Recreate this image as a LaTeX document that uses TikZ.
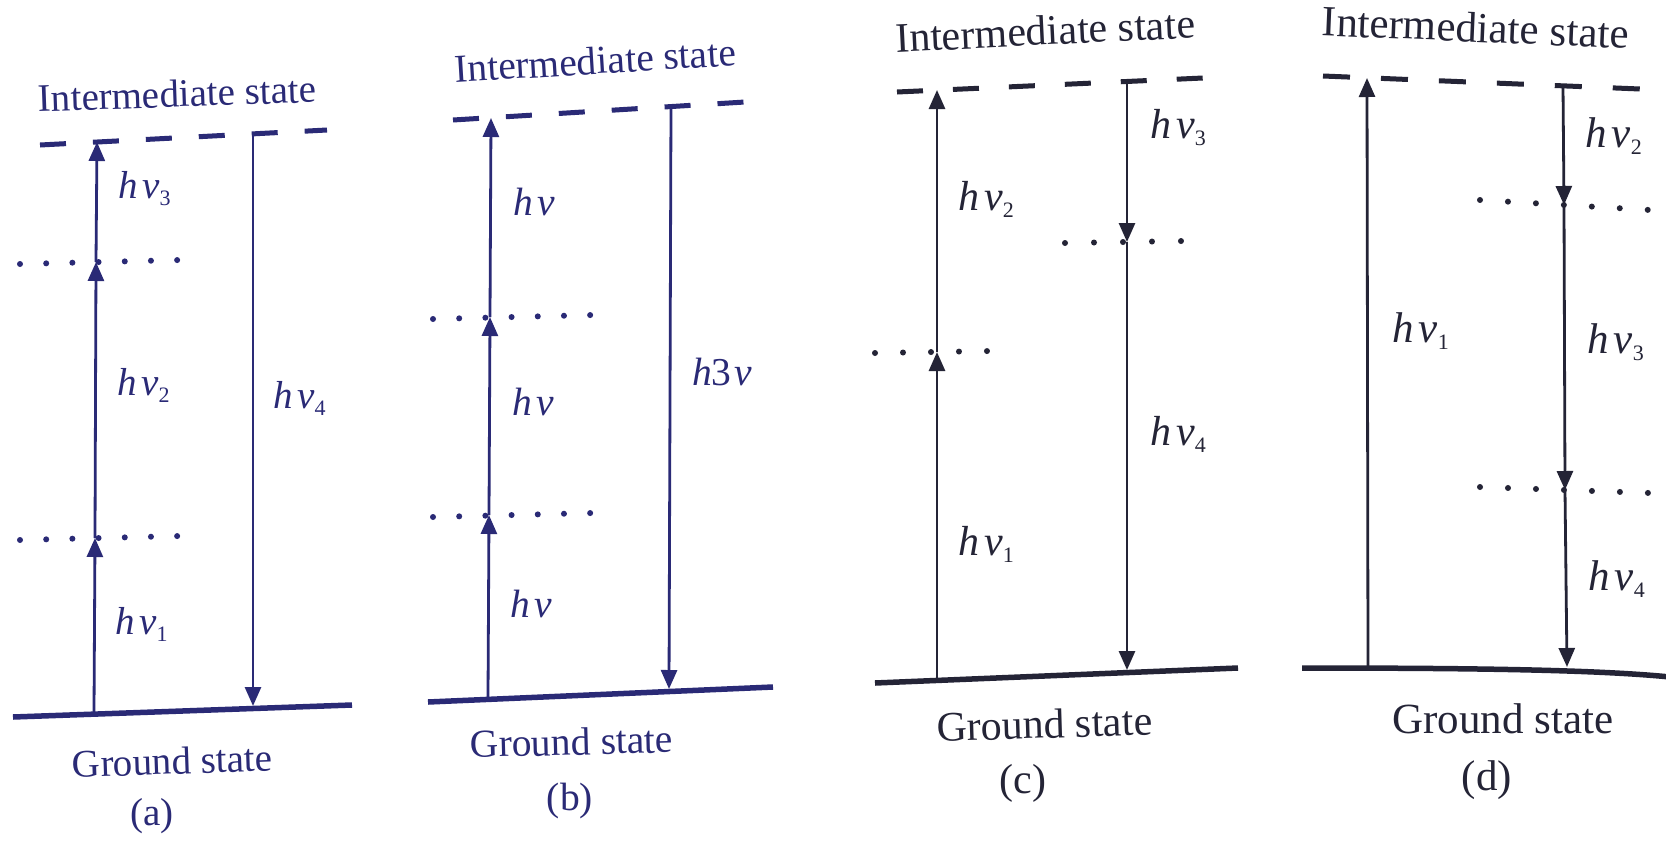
\documentclass[tikz,border=0pt]{standalone}
\usepackage{fontspec}
\setmainfont{Liberation Serif}
\usetikzlibrary{arrows.meta}
\definecolor{inkab}{RGB}{42,42,118}
\definecolor{inkcd}{RGB}{36,36,54}
\newcommand{\hv}[1]{\textit{h}\kern0.12em\textit{ν}\raisebox{-7pt}{\fontsize{22}{22}\selectfont #1}}
\newcommand{\hnu}{\textit{h}\kern0.12em\textit{ν}}
\begin{document}
\begin{tikzpicture}[x=1pt,y=-1pt,
  arr/.style={line width=2.8pt,-{Triangle[length=19pt,width=16pt]}},
  groundline/.style={line width=5.5pt},
  interm/.style={line width=5pt,dash pattern=on 26pt off 27pt},
  dotlev/.style={line width=6pt,line cap=round,dash pattern=on 0pt off 26.2pt},
  lbl/.style={inner sep=0pt,anchor=base west},
  ttl/.style={inner sep=0pt,anchor=base},
]
\useasboundingbox[fill=white] (0,0) rectangle (1666,841);

% ---------------- (a) ----------------
\begin{scope}[color=inkab, every node/.append style={font=\fontsize{39}{44}\selectfont}]
\draw[interm] (40,145) -- (327,130);
\draw[groundline] (13,717) -- (352,705);
\draw[dotlev] (20,540) -- (180,536);
\draw[dotlev] (20,264) -- (180,260);
\coordinate (a-g) at (94,712);
\coordinate (a-l1) at (95,538);
\coordinate (a-l2) at (96,262);
\coordinate (a-t) at (97,142);
\coordinate (a-dt) at (253,136);
\coordinate (a-dg) at (253,706);
\draw[arr] (a-g) -- (a-l1);
\draw[arr] (a-l1) -- (a-l2);
\draw[arr] (a-l2) -- (a-t);
\draw[arr] (a-dt) -- (a-dg);
\node[ttl,rotate=2] (a-int) at (178,107) {Intermediate state};
\node[ttl,rotate=2] (a-gs) at (173,774) {Ground state};
\node[ttl] (a-cap) at (152,825) {(a)};
\node[lbl] (a-h3) at (118,198) {\hv{3}};
\node[lbl] (a-h2) at (117,395) {\hv{2}};
\node[lbl] (a-h1) at (115,634) {\hv{1}};
\node[lbl] (a-h4) at (273,408) {\hv{4}};
\end{scope}

% ---------------- (b) ----------------
\begin{scope}[color=inkab, every node/.append style={font=\fontsize{39.5}{44}\selectfont}]
\draw[interm] (453,120) -- (745,102);
\draw[groundline] (428,702) -- (773,687);
\draw[dotlev] (433,517) -- (593,513);
\draw[dotlev] (433,319) -- (593,315);
\coordinate (b-g) at (488,697);
\coordinate (b-l1) at (489,515);
\coordinate (b-l2) at (490,317);
\coordinate (b-t) at (491,118);
\coordinate (b-dt) at (671,106);
\coordinate (b-dg) at (669,689);
\draw[arr] (b-g) -- (b-l1);
\draw[arr] (b-l1) -- (b-l2);
\draw[arr] (b-l2) -- (b-t);
\draw[arr] (b-dt) -- (b-dg);
\node[ttl,rotate=3.5] (b-int) at (596,74) {Intermediate state};
\node[ttl,rotate=1.5] (b-gs) at (572,755) {Ground state};
\node[ttl] (b-cap) at (570,810) {(b)};
\node[lbl] (b-h3) at (513,215) {\hnu};
\node[lbl] (b-h2) at (512,415) {\hnu};
\node[lbl] (b-h1) at (510,617) {\hnu};
\node[lbl] (b-h4) at (692,385) {\textit{h}3\kern0.08em\textit{ν}};
\end{scope}

% ---------------- (c) ----------------
\begin{scope}[color=inkcd, every node/.append style={font=\fontsize{42}{46}\selectfont}]
\draw[interm,dash pattern=on 26pt off 30pt] (897,92) -- (1203,78);
\draw[groundline] (875,683) -- (1238,668);
\draw[dotlev,dash pattern=on 0pt off 28pt] (875,353) -- (990,351);
\draw[dotlev,dash pattern=on 0pt off 29pt] (1065,243) -- (1183,241);
\coordinate (c-g) at (937,678);
\coordinate (c-l1) at (937,352);
\coordinate (c-t) at (937,90);
\coordinate (c-dt) at (1127,81);
\coordinate (c-dl) at (1127,242);
\coordinate (c-dg) at (1127,670);
\draw[arr] (c-g) -- (c-l1);
\draw[arr] (c-l1) -- (c-t);
\draw[arr] (c-dt) -- (c-dl);
\draw[arr] (c-dl) -- (c-dg);
\node[ttl,rotate=2.8] (c-int) at (1046,45) {Intermediate state};
\node[ttl,rotate=1.8] (c-gs) at (1045,738) {Ground state};
\node[ttl] (c-cap) at (1023,793) {(c)};
\node[lbl] (c-h2) at (958,210) {\hv{2}};
\node[lbl] (c-h1) at (958,555) {\hv{1}};
\node[lbl] (c-h3) at (1150,138) {\hv{3}};
\node[lbl] (c-h4) at (1150,445) {\hv{4}};
\end{scope}

% ---------------- (d) ----------------
\begin{scope}[color=inkcd, every node/.append style={font=\fontsize{43}{47}\selectfont}]
\draw[interm,dash pattern=on 27pt off 31pt] (1323,76) -- (1640,89);
\draw[groundline] (1302,668) .. controls (1480,668) and (1600,670) .. (1670,677);
\draw[dotlev,dash pattern=on 0pt off 28pt] (1480,200) -- (1650,210);
\draw[dotlev,dash pattern=on 0pt off 28pt] (1480,487) -- (1650,493);
\coordinate (d-g) at (1368,666);
\coordinate (d-t) at (1367,78);
\coordinate (d-dt) at (1563,86);
\coordinate (d-l1) at (1564,205);
\coordinate (d-l2) at (1565,490);
\coordinate (d-dg) at (1567,667);
\draw[arr] (d-g) -- (d-t);
\draw[arr] (d-dt) -- (d-l1);
\draw[arr] (d-l1) -- (d-l2);
\draw[arr] (d-l2) -- (d-dg);
\node[ttl,rotate=-2.4] (d-int) at (1475,42) {Intermediate state};
\node[ttl] (d-gs) at (1503,733) {Ground state};
\node[ttl] (d-cap) at (1487,790) {(d)};
\node[lbl] (d-h1) at (1392,342) {\hv{1}};
\node[lbl] (d-h2) at (1585,147) {\hv{2}};
\node[lbl] (d-h3) at (1587,353) {\hv{3}};
\node[lbl] (d-h4) at (1588,590) {\hv{4}};
\end{scope}
\end{tikzpicture}
\end{document}
